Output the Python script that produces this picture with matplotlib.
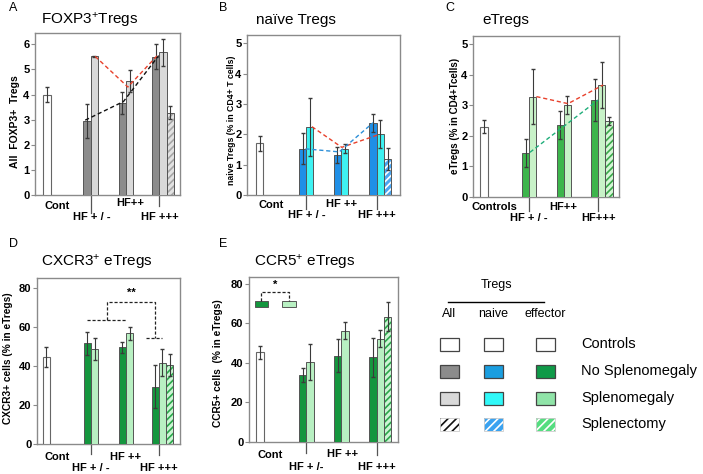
import matplotlib
matplotlib.use('Agg')
import matplotlib.pyplot as plt
from matplotlib.transforms import blended_transform_factory
from matplotlib.patches import Rectangle

plt.rcParams['font.family'] = ['Liberation Sans', 'DejaVu Sans']
plt.rcParams['mathtext.fontset'] = 'custom'
plt.rcParams['mathtext.rm'] = 'Liberation Sans'
plt.rcParams['mathtext.it'] = 'Liberation Sans:italic'
plt.rcParams['mathtext.bf'] = 'Liberation Sans:bold'
plt.rcParams['hatch.linewidth'] = 1.2

W, H = 703, 474

# ---------------- data ----------------
A_labels = ["Cont", "HF + / -", "HF++", "HF +++"]
A_ctrl, A_ctrl_err = 4.0, 0.3
A_nospl = [2.95, 3.65, 5.50]
A_nospl_err = [0.67, 0.44, 0.50]
A_spl = [5.52, 4.54, 5.68]
A_spl_err = [0.03, 0.45, 0.55]
A_splx, A_splx_err = 3.28, 0.27
A_red = [5.52, 4.30, 5.55]
A_black = [2.98, 3.72, 5.55]

B_labels = ["Cont", "HF + / -", "HF ++", "HF +++"]
B_ctrl, B_ctrl_err = 1.70, 0.24
B_nospl = [1.52, 1.32, 2.38]
B_nospl_err = [0.51, 0.27, 0.30]
B_spl = [2.25, 1.52, 2.00]
B_spl_err = [0.96, 0.15, 0.46]
B_splx, B_splx_err = 1.18, 0.37
B_red = [2.25, 1.57, 2.00]
B_blue = [1.52, 1.42, 2.38]

C_labels = ["Controls", "HF + / -", "HF++", "HF+++"]
C_ctrl, C_ctrl_err = 2.30, 0.20
C_nospl = [1.44, 2.35, 3.17]
C_nospl_err = [0.45, 0.45, 0.68]
C_spl = [3.28, 3.01, 3.66]
C_spl_err = [0.90, 0.30, 0.74]
C_splx, C_splx_err = 2.49, 0.13
C_red = [3.28, 3.05, 3.66]
C_green = [1.46, 3.17]

D_labels = ["Cont", "HF + / -", "HF ++", "HF +++"]
D_ctrl, D_ctrl_err = 44.4, 5.1
D_nospl = [51.5, 49.5, 29.4]
D_nospl_err = [5.7, 2.8, 11.0]
D_spl = [48.5, 56.7, 41.6]
D_spl_err = [5.7, 3.2, 6.8]
D_splx, D_splx_err = 40.4, 5.6
D_bracket = [63.5, 72.9, 54.1]
D_sig = "**"

E_labels = ["Cont", "HF + /-", "HF ++", "HF +++"]
E_ctrl, E_ctrl_err = 45.4, 3.4
E_nospl = [34.1, 43.7, 42.9]
E_nospl_err = [3.5, 8.2, 9.9]
E_spl = [40.5, 56.4, 52.2]
E_spl_err = [8.9, 4.2, 4.3]
E_splx, E_splx_err = 63.3, 7.3
E_sig = "*"

legend_rows = ["Controls", "No Splenomegaly", "Splenomegaly", "Splenectomy"]
legend_cols = ["All", "naive", "effector"]

# ---------------- style ----------------
FRAME = '#8a8a8a'
EDGE = '#555555'
ERR = '#3a3a3a'

fig = plt.figure(figsize=(W / 100, H / 100), dpi=100)


def px_axes(x0, y0, x1, y1):
    return fig.add_axes([x0 / W, 1 - y1 / H, (x1 - x0) / W, (y1 - y0) / H])


def hatched_bar(ax, x, h, face, hatchc, hatch='/////'):
    ax.bar(x, h, width=1.0, color=face, edgecolor=hatchc, hatch=hatch, linewidth=0, zorder=2)
    ax.bar(x, h, width=1.0, fill=False, edgecolor=EDGE, linewidth=0.7, zorder=3)


def panel(ax, g, ctrl, ctrl_err, nospl, nospl_err, spl, spl_err, splx, splx_err,
          c_dark, c_light, c_hface, c_hatch, xlim, ylim, yticks,
          labels, lab_x, lab_off, tick_x, tick_len):
    hpx = ax.get_position().height * H
    ax.bar(0, ctrl, width=1.0, color='white', edgecolor='#666666', linewidth=0.8, zorder=3)
    ax.errorbar(0, ctrl, yerr=ctrl_err, fmt='none', ecolor=ERR, elinewidth=0.8, capsize=1.5, zorder=5)
    xd = [gi for gi in g]
    xl = [gi + 1 for gi in g]
    ax.bar(xd, nospl, width=1.0, color=c_dark, edgecolor=EDGE, linewidth=0.7, zorder=3)
    ax.bar(xl, spl, width=1.0, color=c_light, edgecolor=EDGE, linewidth=0.7, zorder=3)
    hatched_bar(ax, g[2] + 2, splx, c_hface, c_hatch)
    ax.errorbar(xd, nospl, yerr=nospl_err, fmt='none', ecolor=ERR, elinewidth=0.8, capsize=1.5, zorder=5)
    ax.errorbar(xl, spl, yerr=spl_err, fmt='none', ecolor=ERR, elinewidth=0.8, capsize=1.5, zorder=5)
    ax.errorbar(g[2] + 2, splx, yerr=splx_err, fmt='none', ecolor=ERR, elinewidth=0.8, capsize=1.5, zorder=5)
    ax.set_xlim(*xlim)
    ax.set_ylim(*ylim)
    ax.set_yticks(yticks)
    ax.set_yticklabels([str(t) for t in yticks], fontweight='bold', fontsize=8)
    ax.tick_params(axis='y', length=3, width=0.8, color=FRAME, pad=1)
    ax.set_xticks([])
    for s in ax.spines.values():
        s.set_color(FRAME)
        s.set_linewidth(1.0)
    tr = blended_transform_factory(ax.transData, ax.transAxes)
    for lab, lx, lo in zip(labels, lab_x, lab_off):
        ax.text(lx, -lo / hpx, lab, transform=tr, ha='center', va='center',
                fontsize=8, fontweight='bold')
    for tx, tl in zip(tick_x, tick_len):
        ax.plot([tx, tx], [0, -tl / hpx], transform=tr, color='#555555', lw=0.9, clip_on=False)


# ---- Panel A ----
axA = px_axes(35, 33, 180, 195)
gA = [5.45, 10.23, 14.8]
panel(axA, gA, A_ctrl, A_ctrl_err, A_nospl, A_nospl_err, A_spl, A_spl_err, A_splx, A_splx_err,
      '#8c8c8c', '#d9d9d9', '#e2e2e2', '#a6a6a6', (-1.64, 18.1), (0, 6.45), list(range(0, 7)),
      A_labels, [1.4, 6.1, 11.3, 15.3], [11, 22, 8, 22], [5.95, 15.3], [18, 11])
axA.plot([gA[0] + 1.1, gA[1] + 0.77, gA[2] + 0.2], A_red, ls='--', color='#e8412c', lw=1.0, zorder=6, dashes=(3, 2))
axA.plot([gA[0] - 0.25, gA[1] + 0.17, gA[2] + 0.4], A_black, ls='--', color='#111111', lw=1.0, zorder=6, dashes=(3, 2))

# ---- Panel B ----
axB = px_axes(247, 35, 400, 195)
gB = [5.9, 10.7, 15.6]
panel(axB, gB, B_ctrl, B_ctrl_err, B_nospl, B_nospl_err, B_spl, B_spl_err, B_splx, B_splx_err,
      '#1f8fe6', '#3ef2f2', '#4aa6f2', '#ffffff', (-1.73, 19.3), (0, 5.27), list(range(0, 6)),
      B_labels, [1.55, 6.45, 11.3, 16.1], [10, 20, 9, 20], [6.4, 16.1], [14, 14])
axB.plot([gB[0] + 1.3, gB[1] + 0.6, gB[2] + 0.9], B_red, ls='--', color='#e8412c', lw=1.0, zorder=6, dashes=(3, 2))
axB.plot([gB[0] + 0.4, gB[1] + 0.25, gB[2]], B_blue, ls='--', color='#2c8fd8', lw=1.0, zorder=6, dashes=(3, 2))

# ---- Panel C ----
axC = px_axes(473, 36, 619, 197)
gC = [5.8, 10.6, 15.4]
panel(axC, gC, C_ctrl, C_ctrl_err, C_nospl, C_nospl_err, C_spl, C_spl_err, C_splx, C_splx_err,
      '#3db54c', '#c8f2c8', '#d6f6d6', '#3aa84a', (-1.53, 18.8), (0, 5.26), list(range(0, 6)),
      C_labels, [1.5, 6.3, 11.1, 15.9], [10, 21, 10, 21], [6.3, 15.9], [14, 14])
axC.plot([gC[0] + 1.5, gC[1] + 1.1, gC[2] + 1.2], C_red, ls='--', color='#e8412c', lw=1.0, zorder=6, dashes=(3, 2))
axC.plot([gC[0] + 0.6, gC[2] + 0.5], C_green, ls='--', color='#1fae7a', lw=1.0, zorder=6, dashes=(3, 2))

# ---- Panel D ----
axD = px_axes(37, 278, 180, 444)
gD = [5.6, 10.4, 14.9]
panel(axD, gD, D_ctrl, D_ctrl_err, D_nospl, D_nospl_err, D_spl, D_spl_err, D_splx, D_splx_err,
      '#14963e', '#b8f0c2', '#cdf4d4', '#2aa84a', (-1.27, 18.3), (0, 85), [0, 20, 40, 60, 80],
      D_labels, [1.45, 6.1, 10.8, 15.45], [13, 24, 13, 24], [6.1, 15.4], [10, 11])
bk = dict(ls='--', color='#222222', lw=0.9, dashes=(2.5, 1.5), zorder=6)
axD.plot([gD[0], gD[1] + 0.6], [D_bracket[0], D_bracket[0]], **bk)
axD.plot([8.3, 8.3, 14.9, 14.9], [D_bracket[0], D_bracket[1], D_bracket[1], D_bracket[2]], **bk)
axD.plot([13.7, 15.9], [D_bracket[2], D_bracket[2]], **bk)
axD.text(11.6, D_bracket[1] + 4.5, D_sig, ha='center', va='center', fontsize=8, fontweight='bold')

# ---- Panel E ----
axE = px_axes(249, 277, 398, 442)
gE = [5.8, 10.6, 15.4]
panel(axE, gE, E_ctrl, E_ctrl_err, E_nospl, E_nospl_err, E_spl, E_spl_err, E_splx, E_splx_err,
      '#14963e', '#b8f0c2', '#cdf4d4', '#2aa84a', (-1.5, 18.8), (0, 83.5), [0, 20, 40, 60, 80],
      E_labels, [1.4, 6.3, 11.2, 15.9], [13, 25, 12, 25], [6.3, 15.9], [11, 13])
axE.add_patch(Rectangle((-0.73, 68.3), 1.82, 2.9, facecolor='#14963e', edgecolor=EDGE, lw=0.7, zorder=4))
axE.add_patch(Rectangle((3.05, 68.3), 1.82, 2.9, facecolor='#b8f0c2', edgecolor=EDGE, lw=0.7, zorder=4))
axE.plot([0.18, 0.18, 3.95, 3.95], [71.2, 75.8, 75.8, 71.2], **bk)
axE.text(2.1, 79.3, E_sig, ha='center', va='center', fontsize=8, fontweight='bold')

# ---- titles, letters, y labels ----
def ftext(x, y, s, **kw):
    fig.text(x / W, 1 - y / H, s, **kw)

ftext(90, 20, r"FOXP3$^{+}$Tregs", ha='center', va='center', fontsize=11)
ftext(296, 20, "naïve Tregs", ha='center', va='center', fontsize=11)
ftext(506, 20, "eTregs", ha='center', va='center', fontsize=11)
ftext(97, 263, r"CXCR3$^{+}$ eTregs", ha='center', va='center', fontsize=11)
ftext(305, 262, r"CCR5$^{+}$ eTregs", ha='center', va='center', fontsize=11)
for s, x, y in [("A", 13, 8), ("B", 223, 8), ("C", 450, 8), ("D", 13, 244), ("E", 223, 244)]:
    ftext(x, y, s, ha='center', va='center', fontsize=9)

ftext(15, 122, "All  FOXP3+  Tregs", rotation=90, ha='center', va='center', fontsize=7.5, fontweight='bold')
ftext(231, 120, "naive Tregs (% in CD4+ T cells)", rotation=90, ha='center', va='center', fontsize=6.3, fontweight='bold')
ftext(455, 116, "eTregs (% in CD4+Tcells)", rotation=90, ha='center', va='center', fontsize=7.0, fontweight='bold')
ftext(8, 358, "CXCR3+ cells (% in eTregs)", rotation=90, ha='center', va='center', fontsize=7.3, fontweight='bold')
ftext(218, 363, "CCR5+ cells  (% in eTregs)", rotation=90, ha='center', va='center', fontsize=7.3, fontweight='bold')

# ---- legend panel ----
lax = fig.add_axes([0, 0, 1, 1], zorder=-1)
lax.set_xlim(0, W)
lax.set_ylim(H, 0)
lax.axis('off')
lax.text(497, 285, "Tregs", ha='center', va='center', fontsize=9)
lax.plot([448, 544], [302, 302], color='black', lw=1.0)
col_x = [449, 493, 545]
for name, cx in zip(legend_cols, col_x):
    lax.text(cx, 314, name, ha='center', va='center', fontsize=9)
row_y = [344, 371, 398, 424]
sw_x = [440, 484, 536]
faces = [
    ['white', '#8c8c8c', '#d9d9d9', 'white'],
    ['white', '#1a9ee0', '#30f8f8', '#3aa2f0'],
    ['white', '#0f9a48', '#90e4a8', '#55dd80'],
]
hatchc = ['#111111', '#ffffff', '#ffffff']
for ci, sx in enumerate(sw_x):
    for ri, ry in enumerate(row_y):
        if ri == 3:
            lax.add_patch(Rectangle((sx, ry - 6.5), 19, 13, facecolor=faces[ci][ri], edgecolor=hatchc[ci],
                                    hatch='////', lw=0))
            lax.add_patch(Rectangle((sx, ry - 6.5), 19, 13, fill=False, edgecolor='#cccccc', lw=0.6))
        else:
            lax.add_patch(Rectangle((sx, ry - 6.5), 19, 13, facecolor=faces[ci][ri], edgecolor='#444444', lw=0.9))
for name, ry in zip(legend_rows, row_y):
    lax.text(581, ry, name, ha='left', va='center', fontsize=10.5)

fig.savefig('out.png', dpi=100)
